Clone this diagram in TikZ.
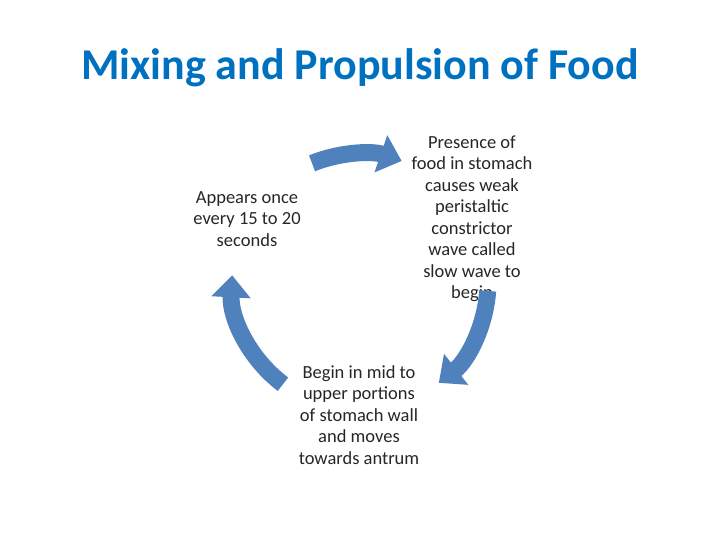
\documentclass[tikz,border=0pt]{standalone}
\usepackage{fontspec}
\setmainfont{Carlito}
\usetikzlibrary{arrows.meta,calc}
\definecolor{titleblue}{HTML}{0070C0}
\definecolor{arrowblue}{HTML}{4F81BD}
\begin{document}
\begin{tikzpicture}[x=1pt,y=1pt,
  lbl/.style={align=center,font=\fontsize{18.5}{21.5}\selectfont,text=black!85},
  cyc/.style={draw=arrowblue,line width=17pt,-{Triangle[width=38pt,length=22pt]}}]
\useasboundingbox (0,0) rectangle (720,540);
\coordinate (c) at (360,258);
\node[font=\fontsize{44}{50}\selectfont\bfseries,text=titleblue] (title) at (360,472) {Mixing and Propulsion of Food};
\node[lbl] (tr) at (472,321) {Presence of\\food in stomach\\causes weak\\peristaltic\\constrictor\\wave called\\slow wave to\\begin};
\node[lbl] (lf) at (247,321) {Appears once\\every 15 to 20\\seconds};
\node[lbl] (bt) at (359,125) {Begin in mid to\\upper portions\\of stomach wall\\and moves\\towards antrum};
\draw[cyc] ($(c)+(112:128)$) arc[start angle=112,end angle=71,radius=128];
\draw[cyc] ($(c)+(-4:128)$) arc[start angle=-4,end angle=-52,radius=128];
\draw[cyc] ($(c)+(233:128)$) arc[start angle=233,end angle=177,radius=128];
\end{tikzpicture}
\end{document}
